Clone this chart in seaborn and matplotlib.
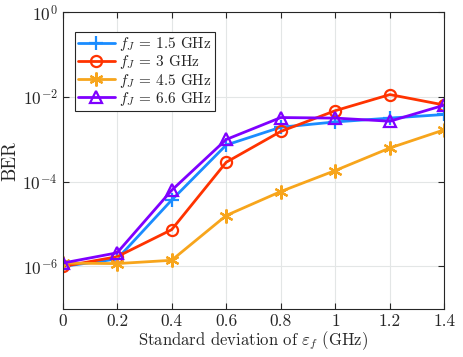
import numpy as np
import pandas as pd
import matplotlib
matplotlib.use("Agg")
import matplotlib.pyplot as plt
import matplotlib.ticker as mticker
import seaborn as sns

# dados
std_dev = [0, 0.2, 0.4, 0.6, 0.8, 1.0, 1.2, 1.4]
ber_15 = [1.0e-6, 1.5e-6, 3.7e-5, 7.4e-4, 1.95e-3, 2.6e-3, 3.2e-3, 3.9e-3]
ber_3 = [1.0e-6, 1.7e-6, 7.4e-6, 2.9e-4, 1.55e-3, 4.8e-3, 1.15e-2, 6.5e-3]
ber_45 = [1.2e-6, 1.17e-6, 1.4e-6, 1.6e-5, 5.9e-5, 1.85e-4, 6.3e-4, 1.7e-3]
ber_66 = [1.2e-6, 2.1e-6, 6.3e-5, 1.0e-3, 3.3e-3, 3.2e-3, 2.7e-3, 6.5e-3]
labels = [r"$f_J$ = 1.5 GHz", r"$f_J$ = 3 GHz", r"$f_J$ = 4.5 GHz", r"$f_J$ = 6.6 GHz"]

series = [ber_15, ber_3, ber_45, ber_66]
df = pd.concat(
    [pd.DataFrame({"std": std_dev, "BER": s, "curve": lab}) for s, lab in zip(series, labels)],
    ignore_index=True,
)

sns.set_style("ticks")
plt.rcParams["font.family"] = ["serif"]
plt.rcParams["font.serif"] = ["cmr10"]
plt.rcParams["mathtext.fontset"] = "cm"
plt.rcParams["axes.formatter.use_mathtext"] = True
plt.rcParams["axes.unicode_minus"] = False

colors = ["#1a8cff", "#ff3300", "#f7a51c", "#7f00ff"]
markers = ["+", "o", (6, 2, 0), "^"]
msizes = [10, 8, 10, 8]

fig, ax = plt.subplots(figsize=(4.63, 3.57), dpi=100)
for lab, col, mk, ms in zip(labels, colors, markers, msizes):
    sub = df[df["curve"] == lab]
    sns.lineplot(data=sub, x="std", y="BER", ax=ax, color=col, marker=mk,
                 markersize=ms, markerfacecolor="none",
                 markeredgecolor=col, markeredgewidth=1.6, linewidth=2.0, label=lab)

ax.set_yscale("log")
ax.set_ylim(1e-7, 1)
ax.set_xlim(0, 1.4)
ax.set_xticks(std_dev)
ax.set_xticklabels(["0", "0.2", "0.4", "0.6", "0.8", "1", "1.2", "1.4"])
ax.yaxis.set_major_locator(mticker.FixedLocator([1e-6, 1e-4, 1e-2, 1e0]))
ax.yaxis.set_minor_locator(mticker.NullLocator())
ax.grid(True, color="#e3e6e6", linewidth=0.8)
ax.tick_params(direction="in", top=True, right=True, labelsize=12.5, length=4,
               color="#262626")
for sp in ax.spines.values():
    sp.set_color("#262626")
    sp.set_linewidth(0.8)
    sp.set_visible(True)

ax.set_xlabel(r"Standard deviation of $\varepsilon_f$ (GHz)", fontsize=12, labelpad=0)
ax.set_ylabel("BER", fontsize=13.5, labelpad=2)

leg = ax.legend(loc="upper left", bbox_to_anchor=(0.025, 0.945), fontsize=11,
                fancybox=False, framealpha=1, edgecolor="#262626",
                handlelength=2.4, borderpad=0.2, labelspacing=0.02,
                handletextpad=0.3, borderaxespad=0.2)
leg.get_frame().set_linewidth(0.8)

plt.subplots_adjust(left=0.135, right=0.96, bottom=0.135, top=0.965)
plt.savefig("out.png", dpi=100)
